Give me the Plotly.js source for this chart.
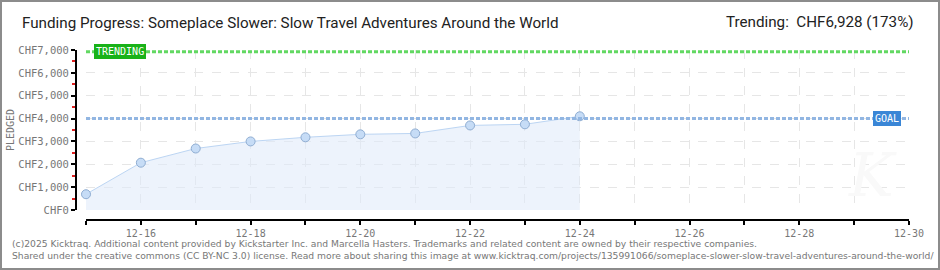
<!DOCTYPE html>
<html><head><meta charset="utf-8">
<script src="https://cdn.plot.ly/plotly-3.0.1.min.js"></script>
<style>html,body{margin:0;padding:0;background:#fff;}#chart{width:940px;height:270px;}</style>
</head><body><div id="chart"></div>
<script>
const dates = ['2024-12-15','2024-12-16','2024-12-17','2024-12-18','2024-12-19','2024-12-20','2024-12-21','2024-12-22','2024-12-23','2024-12-24'];
const pledged = [690, 2070, 2690, 3000, 3180, 3310, 3350, 3700, 3750, 4100];
const goal = 4000;
const trending = 6928;
const xTickVals = ['2024-12-16','2024-12-18','2024-12-20','2024-12-22','2024-12-24','2024-12-26','2024-12-28','2024-12-30'];
const xTickText = ['12-16','12-18','12-20','12-22','12-24','12-26','12-28','12-30'];
const yTickVals = [0,1000,2000,3000,4000,5000,6000,7000];
const yTickText = ['CHF0','CHF1,000','CHF2,000','CHF3,000','CHF4,000','CHF5,000','CHF6,000','CHF7,000'];
const xStart = '2024-12-15', xEnd = '2024-12-30';
const titleText = 'Funding Progress: Someplace Slower: Slow Travel Adventures Around the World';
const trendText = 'Trending:  CHF6,928 (173%)';
const footer1 = '(c)2025 Kicktraq. Additional content provided by Kickstarter Inc. and Marcella Hasters. Trademarks and related content are owned by their respective companies.';
const footer2 = 'Shared under the creative commons (CC BY-NC 3.0) license. Read more about sharing this image at www.kicktraq.com/projects/135991066/someplace-slower-slow-travel-adventures-around-the-world/';

const L = 76, R = 909, T = 50, B = 220, Wd = 940, Ht = 270;
const W = R - L, H = B - T;
const px = x => (x - L) / W;
const py = y => (B - y) / H;

const pixFont = 'DejaVu Sans Mono, monospace';

const traces = [{
  x: dates, y: pledged, type: 'scatter', mode: 'lines+markers',
  line: {color: '#bcd5f3', width: 1},
  fill: 'tozeroy', fillcolor: 'rgba(222,234,250,0.55)',
  marker: {size: 9, color: '#c6dcf6', line: {color: '#8fadd2', width: 1}},
  cliponaxis: false, hoverinfo: 'skip'
}];

const layout = {
  width: Wd, height: Ht,
  margin: {l: L, r: Wd - R, t: T, b: Ht - B},
  paper_bgcolor: '#fff', plot_bgcolor: '#fff',
  showlegend: false,
  xaxis: {
    type: 'date', range: [xStart, xEnd], domain: [10 / W, 1],
    tickvals: xTickVals, ticktext: xTickText,
    ticks: 'outside', ticklen: 4, tickcolor: '#000', tickwidth: 2,
    showline: true, linecolor: '#000', linewidth: 2,
    showgrid: true, gridcolor: '#e6e6e6', griddash: 'dash', gridwidth: 1,
    minor: {dtick: 86400000, tick0: xStart, ticks: 'outside', ticklen: 4, tickcolor: '#000', tickwidth: 2,
            showgrid: true, gridcolor: '#e6e6e6', griddash: 'dash', gridwidth: 1},
    tickfont: {family: pixFont, size: 10, color: '#777'},
    anchor: 'free', position: 0, zeroline: false, fixedrange: true
  },
  yaxis: {
    range: [0, 7000], domain: [10 / H, 1],
    tickvals: yTickVals, ticktext: yTickText,
    ticks: 'outside', ticklen: 4, tickcolor: '#000', tickwidth: 2,
    showline: true, linecolor: '#000', linewidth: 2,
    showgrid: true, gridcolor: '#e6e6e6', griddash: 'dash', gridwidth: 1,
    minor: {dtick: 500, tick0: 500, ticks: 'outside', ticklen: 3, tickcolor: '#e02020', tickwidth: 2, showgrid: false},
    tickfont: {family: pixFont, size: 10.5, color: '#777'},
    anchor: 'free', position: 0, zeroline: false, fixedrange: true
  },
  shapes: [
    {type: 'line', xref: 'x', yref: 'y', x0: xStart, x1: xEnd, y0: trending, y1: trending,
     line: {color: '#62d862', width: 3, dash: '4px,2px'}},
    {type: 'line', xref: 'x', yref: 'y', x0: xStart, x1: xEnd, y0: goal, y1: goal,
     line: {color: '#92b6e2', width: 3, dash: '4px,2px'}},
    {type: 'rect', xref: 'paper', yref: 'paper', x0: px(1), x1: px(939), y0: py(1), y1: py(269),
     line: {color: '#8c8c8c', width: 2}, fillcolor: 'rgba(0,0,0,0)', layer: 'above'}
  ],
  annotations: [
    {xref: 'paper', yref: 'paper', x: px(20), y: py(23), xanchor: 'left', yanchor: 'middle', showarrow: false,
     text: titleText, font: {family: 'Liberation Sans Narrow, Roboto, sans-serif', size: 15.2, color: '#222'}},
    {xref: 'paper', yref: 'paper', x: px(916), y: py(22), xanchor: 'right', yanchor: 'middle', showarrow: false,
     text: trendText, font: {family: 'Liberation Sans Narrow, Roboto, sans-serif', size: 15.2, color: '#222'}},
    {xref: 'paper', yref: 'paper', x: px(120), y: py(51), xanchor: 'center', yanchor: 'middle', showarrow: false,
     text: 'TRENDING', bgcolor: '#19b219', bordercolor: '#19b219', borderpad: 1,
     font: {family: pixFont, size: 10, color: '#fff'}},
    {xref: 'paper', yref: 'paper', x: px(887), y: py(118), xanchor: 'center', yanchor: 'middle', showarrow: false,
     text: 'GOAL', bgcolor: '#3a86d6', bordercolor: '#3a86d6', borderpad: 1,
     font: {family: pixFont, size: 10, color: '#fff'}},
    {xref: 'paper', yref: 'paper', x: px(10), y: py(130), xanchor: 'center', yanchor: 'middle', showarrow: false,
     text: 'PLEDGED', textangle: -90, font: {family: pixFont, size: 10, color: '#777'}},
    {xref: 'paper', yref: 'paper', x: px(872), y: py(175), xanchor: 'center', yanchor: 'middle', showarrow: false,
     text: '<i>K</i>', font: {family: 'DejaVu Serif, serif', size: 60, color: '#f9f9f9'}},
    {xref: 'paper', yref: 'paper', x: px(10), y: py(243), xanchor: 'left', yanchor: 'middle', showarrow: false,
     text: footer1, font: {family: 'DejaVu Sans, sans-serif', size: 9.2, color: '#777'}},
    {xref: 'paper', yref: 'paper', x: px(10), y: py(256), xanchor: 'left', yanchor: 'middle', showarrow: false,
     text: footer2, font: {family: 'DejaVu Sans, sans-serif', size: 9.2, color: '#777'}}
  ]
};

Plotly.newPlot('chart', traces, layout, {staticPlot: true, displayModeBar: false});
</script></body></html>
